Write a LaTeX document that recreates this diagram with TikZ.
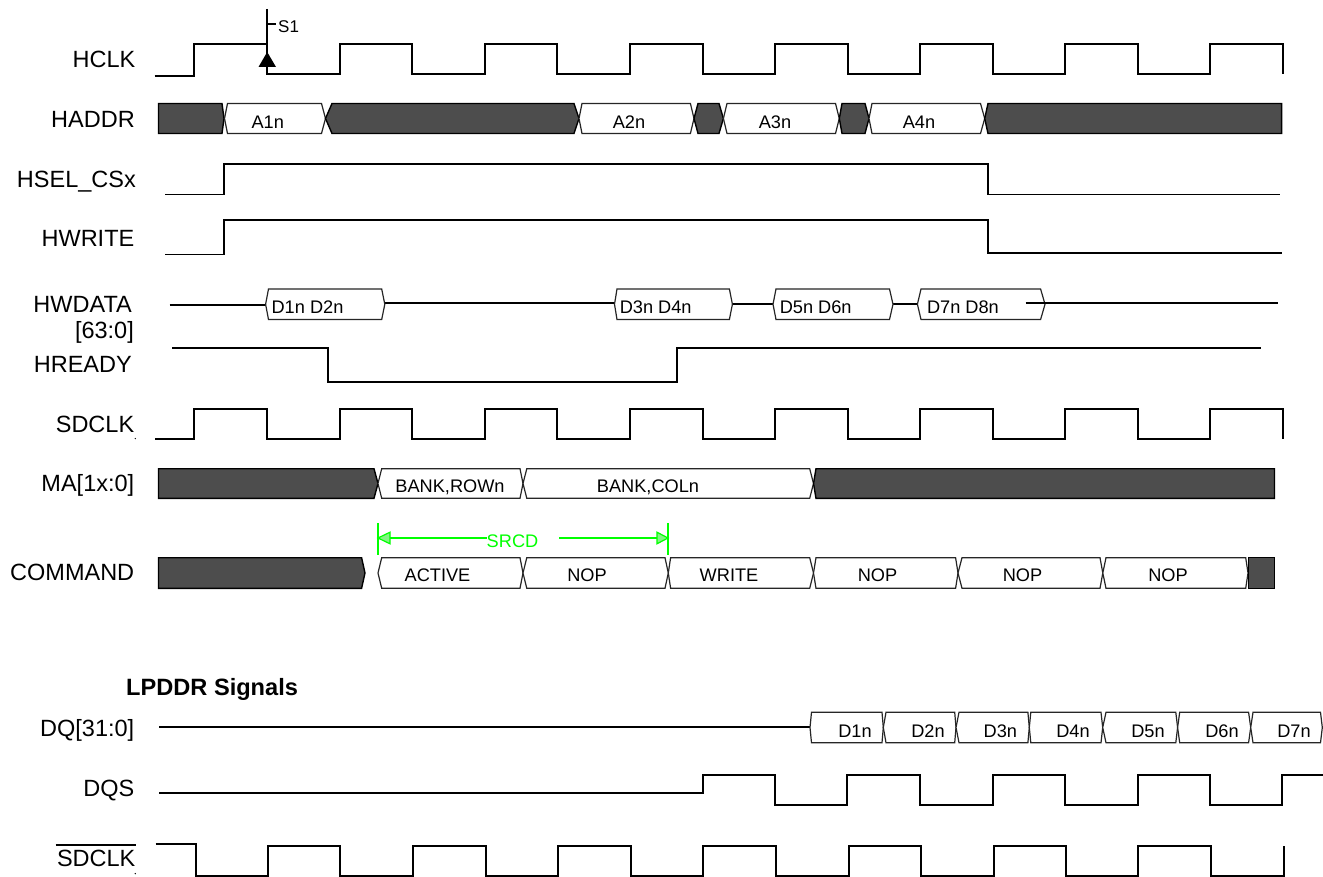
\documentclass[tikz,border=0pt]{standalone}
\usepackage{fontspec}
\setmainfont{Liberation Sans}
\definecolor{busgrey}{HTML}{4D4D4D}
\definecolor{srcdgreen}{RGB}{0,255,0}
\definecolor{srcdfill}{RGB}{130,245,130}
\tikzset{
  wave/.style={draw=black,line width=1.9pt,line join=miter,line cap=butt},
  buslight/.style={draw=black!85,fill=white,line width=1.2pt,line join=miter},
  busdark/.style={draw=black,fill=busgrey,line width=1.4pt,line join=miter},
  siglabel/.style={anchor=base east,inner sep=0pt,font=\fontsize{23.5}{28}\selectfont},
  buslabel/.style={anchor=base,inner sep=0pt,font=\fontsize{18.2}{22}\selectfont},
  busleft/.style={anchor=base west,inner sep=0pt,font=\fontsize{18.2}{22}\selectfont},
  marker/.style={draw=srcdgreen,line width=2pt},
  markerhead/.style={draw=srcdgreen,fill=srcdfill,line width=1.2pt,line join=miter}
}
% style, tip left, x left, x right, tip right, top, bottom
\newcommand{\wavebus}[7]{\path[#1] (#2,{(#6+#7)/2}) -- (#3,#6) -- (#4,#6) -- (#5,{(#6+#7)/2}) -- (#4,#7) -- (#3,#7) -- cycle;}
\begin{document}
\begin{tikzpicture}[x=1pt,y=-1pt]
\useasboundingbox (0,0) rectangle (1323,877);

% ---- signal labels
\node[siglabel] (lhclk) at (135.5,67.8) {HCLK};
\node[siglabel] (lhaddr) at (135,127.6) {HADDR};
\node[siglabel] (lhsel) at (136,187.3) {HSEL\_CSx};
\node[siglabel] (lhwrite) at (134.5,246.8) {HWRITE};
\node[siglabel] (lhwdata) at (132,312.3) {HWDATA};
\node[siglabel] (lhwbits) at (134,339) {[63:0]};
\node[siglabel] (lhready) at (132,372.3) {HREADY};
\node[siglabel] (lsdclk) at (134.4,432.3) {SDCLK};
\node[siglabel] (lma) at (134.4,491.7) {MA[1x:0]};
\node[siglabel] (lcmd) at (134.4,580.7) {COMMAND};
\node[siglabel] (ldq) at (134.4,736.7) {DQ[31:0]};
\node[siglabel] (ldqs) at (134.6,796.7) {DQS};
\node[siglabel] (lsdbar) at (135.6,866.7) {SDCLK};
\draw[line width=1.4pt] (55.5,845) -- (136,845);
\node[anchor=base west,inner sep=0pt,font=\fontsize{23.6}{28}\selectfont\bfseries] (llp) at (126,695.7) {LPDDR Signals};
\fill (135.3,438.6) circle (0.7);
\fill (135.3,873.6) circle (0.7);

% ---- HCLK
\draw[wave] (154.5,75.6) -- (194,75.6) -- (194,43.7) -- (267.2,43.7);
\draw[wave] (267.2,9) -- (267.2,74) -- (340,74) -- (340,43.7) -- (412,43.7) -- (412,74) -- (485,74) -- (485,43.7) -- (557,43.7) -- (557,74) -- (630,74) -- (630,43.7) -- (703,43.7) -- (703,74) -- (775,74) -- (775,43.7) -- (848,43.7) -- (848,74) -- (920,74) -- (920,43.7) -- (993,43.7) -- (993,74) -- (1065,74) -- (1065,43.7) -- (1138,43.7) -- (1138,74) -- (1210,74) -- (1210,43.7) -- (1283,43.7) -- (1283,74);
\fill[black] (267.2,52) -- (276,67) -- (258.5,67) -- cycle;
\draw[line width=1.4pt] (267.2,24) -- (276,24);
\node[anchor=base west,inner sep=0pt,font=\fontsize{17}{20}\selectfont] (s1) at (278,32.7) {S1};

% ---- HADDR
\path[busdark] (158.5,103.5) -- (222,103.5) -- (224,118.5) -- (222,133.5) -- (158.5,133.5) -- cycle;
\wavebus{buslight}{224.5}{227.5}{321.5}{325.5}{103.5}{133.5}
\wavebus{busdark}{325.5}{332}{574}{579}{103.5}{133.5}
\wavebus{buslight}{579}{582}{690.4}{694}{103.5}{133.5}
\wavebus{busdark}{694}{698}{719}{723.4}{103.5}{133.5}
\wavebus{buslight}{723.4}{727}{835.5}{839.3}{103.5}{133.5}
\wavebus{busdark}{839.3}{842}{865}{869}{103.5}{133.5}
\wavebus{buslight}{869}{872}{980.5}{984.7}{103.5}{133.5}
\path[busdark] (984.7,118.5) -- (988,103.5) -- (1281.6,103.5) -- (1281.6,133.5) -- (988,133.5) -- cycle;
\node[buslabel] (a1) at (267.7,128.3) {A1n};
\node[buslabel] (a2) at (629,128.3) {A2n};
\node[buslabel] (a3) at (775,128.3) {A3n};
\node[buslabel] (a4) at (919,128.3) {A4n};

% ---- HSEL_CSx and HWRITE
\draw[wave] (165,194.5) -- (224.3,194.5) -- (224.3,164) -- (988,164) -- (988,194.5) -- (1279.5,194.5);
\draw[wave] (165,254.5) -- (224.3,254.5) -- (224.3,220) -- (988,220) -- (988,253) -- (1281.6,253);

% ---- HWDATA
\draw[wave] (169.6,305) -- (265.6,305);
\draw[wave] (385,303) -- (615,303);
\draw[wave] (732,304) -- (773,304);
\draw[wave] (893,304) -- (917.4,304);
\wavebus{buslight}{265.6}{268.5}{381.7}{384.8}{289}{319.5}
\wavebus{buslight}{614.5}{617}{729.4}{732.4}{289}{319.5}
\wavebus{buslight}{773}{776}{889.5}{893}{289}{319.5}
\wavebus{buslight}{917.4}{921}{1040.6}{1045}{289}{319.5}
\draw[wave] (1025.5,303) -- (1278,303);
\node[busleft] (d12) at (271.4,314) {D1n D2n};
\node[busleft] (d34) at (619.6,314) {D3n D4n};
\node[busleft] (d56) at (779.6,314) {D5n D6n};
\node[busleft] (d78) at (926.8,314) {D7n D8n};

% ---- HREADY
\draw[wave] (172,348) -- (327.7,348) -- (327.7,381.7) -- (677,381.7) -- (677,348) -- (1260.7,348);

% ---- SDCLK
\draw[wave] (155.4,439) -- (194,439) -- (194,408.7) -- (267,408.7) -- (267,439) -- (340,439) -- (340,408.7) -- (412,408.7) -- (412,439) -- (485,439) -- (485,408.7) -- (557,408.7) -- (557,439) -- (630,439) -- (630,408.7) -- (703,408.7) -- (703,439) -- (775,439) -- (775,408.7) -- (848,408.7) -- (848,439) -- (920,439) -- (920,408.7) -- (993,408.7) -- (993,439) -- (1065,439) -- (1065,408.7) -- (1138,408.7) -- (1138,439) -- (1210,439) -- (1210,408.7) -- (1283,408.7) -- (1283,439);

% ---- MA
\path[busdark] (158.5,468.7) -- (374,468.7) -- (378,483.5) -- (374,498.3) -- (158.5,498.3) -- cycle;
\wavebus{buslight}{378}{381.7}{520}{523}{468.7}{498.3}
\wavebus{buslight}{523}{526.8}{809.7}{813.5}{468.7}{498.3}
\path[busdark] (813.5,483.5) -- (816,468.7) -- (1274.5,468.7) -- (1274.5,498.3) -- (816,498.3) -- cycle;
\node[buslabel] (row) at (450,492.3) {BANK,ROWn};
\node[buslabel] (col) at (648,492.3) {BANK,COLn};

% ---- SRCD
\draw[marker] (377.7,523.3) -- (377.7,555);
\draw[marker] (668.3,523.3) -- (668.3,555);
\coordinate (srcdl) at (378,538);
\coordinate (srcdr) at (668,538);
\node[buslabel,text=srcdgreen] (srcd) at (512.5,547.3) {SRCD};
\draw[marker] (srcdl) -- (486.6,538);
\draw[marker] (559,538) -- (srcdr);
\path[markerhead] (srcdl) -- (390,532.2) -- (390,543.8) -- cycle;
\path[markerhead] (srcdr) -- (657,532.2) -- (657,543.8) -- cycle;

% ---- COMMAND
\path[busdark] (158.5,557.7) -- (361.6,557.7) -- (365,573) -- (361.6,588.3) -- (158.5,588.3) -- cycle;
\wavebus{buslight}{378}{381.7}{520}{523}{557.7}{588.3}
\wavebus{buslight}{523}{526.8}{665}{668.3}{557.7}{588.3}
\wavebus{buslight}{668.3}{670.6}{809.7}{813.5}{557.7}{588.3}
\wavebus{buslight}{813.5}{816}{955.6}{958}{557.7}{588.3}
\wavebus{buslight}{958}{962}{1100}{1102.8}{557.7}{588.3}
\wavebus{buslight}{1102.8}{1106}{1245.7}{1248}{557.7}{588.3}
\path[busdark] (1248.7,557.7) rectangle (1274.5,588.3);
\node[buslabel] (active) at (437.5,581.7) {ACTIVE};
\node[buslabel] (nop1) at (587,581.7) {NOP};
\node[buslabel] (write) at (729,581.7) {WRITE};
\node[buslabel] (nop2) at (877.5,581.7) {NOP};
\node[buslabel] (nop3) at (1022.5,581.7) {NOP};
\node[buslabel] (nop4) at (1168,581.7) {NOP};

% ---- DQ
\draw[wave] (159,726.7) -- (810,726.7);
\wavebus{buslight}{810}{811.5}{882}{883.3}{712.3}{742.7}
\wavebus{buslight}{883.3}{886}{954.7}{956}{712.3}{742.7}
\wavebus{buslight}{956}{959}{1027.9}{1029.3}{712.3}{742.7}
\wavebus{buslight}{1029.3}{1030.8}{1101}{1102.7}{712.3}{742.7}
\wavebus{buslight}{1102.7}{1106}{1175.8}{1177.6}{712.3}{742.7}
\wavebus{buslight}{1177.6}{1179.7}{1248.6}{1250.7}{712.3}{742.7}
\wavebus{buslight}{1250.7}{1253}{1320.5}{1322.3}{712.3}{742.7}
\node[buslabel] (q1) at (855,737.3) {D1n};
\node[buslabel] (q2) at (928,737.3) {D2n};
\node[buslabel] (q3) at (1000.4,737.3) {D3n};
\node[buslabel] (q4) at (1073,737.3) {D4n};
\node[buslabel] (q5) at (1148,737.3) {D5n};
\node[buslabel] (q6) at (1222,737.3) {D6n};
\node[buslabel] (q7) at (1294,737.3) {D7n};

% ---- DQS
\draw[wave] (159,792.7) -- (702.7,792.7) -- (702.7,775) -- (775,775) -- (775,804.7) -- (847,804.7) -- (847,775) -- (920,775) -- (920,804.7) -- (993,804.7) -- (993,775) -- (1065,775) -- (1065,804.7) -- (1138,804.7) -- (1138,775) -- (1210,775) -- (1210,804.7) -- (1282,804.7) -- (1282,775) -- (1323,775);

% ---- SDCLK bar
\draw[wave] (155.7,844.3) -- (195.7,844.3) -- (195.7,875.7) -- (268,875.7) -- (268,845.7) -- (340,845.7) -- (340,875.7) -- (413,875.7) -- (413,845.7) -- (486,845.7) -- (486,875.7) -- (557.6,875.7) -- (557.6,845.7) -- (631,845.7) -- (631,875.7) -- (702.7,875.7) -- (702.7,845.7) -- (776,845.7) -- (776,875.7) -- (849,875.7) -- (849,845.7) -- (921,845.7) -- (921,875.7) -- (994,875.7) -- (994,845.7) -- (1066,845.7) -- (1066,875.7) -- (1138,875.7) -- (1138,845.7) -- (1211,845.7) -- (1211,875.7) -- (1283.7,875.7) -- (1283.7,845.7);
\end{tikzpicture}
\end{document}
